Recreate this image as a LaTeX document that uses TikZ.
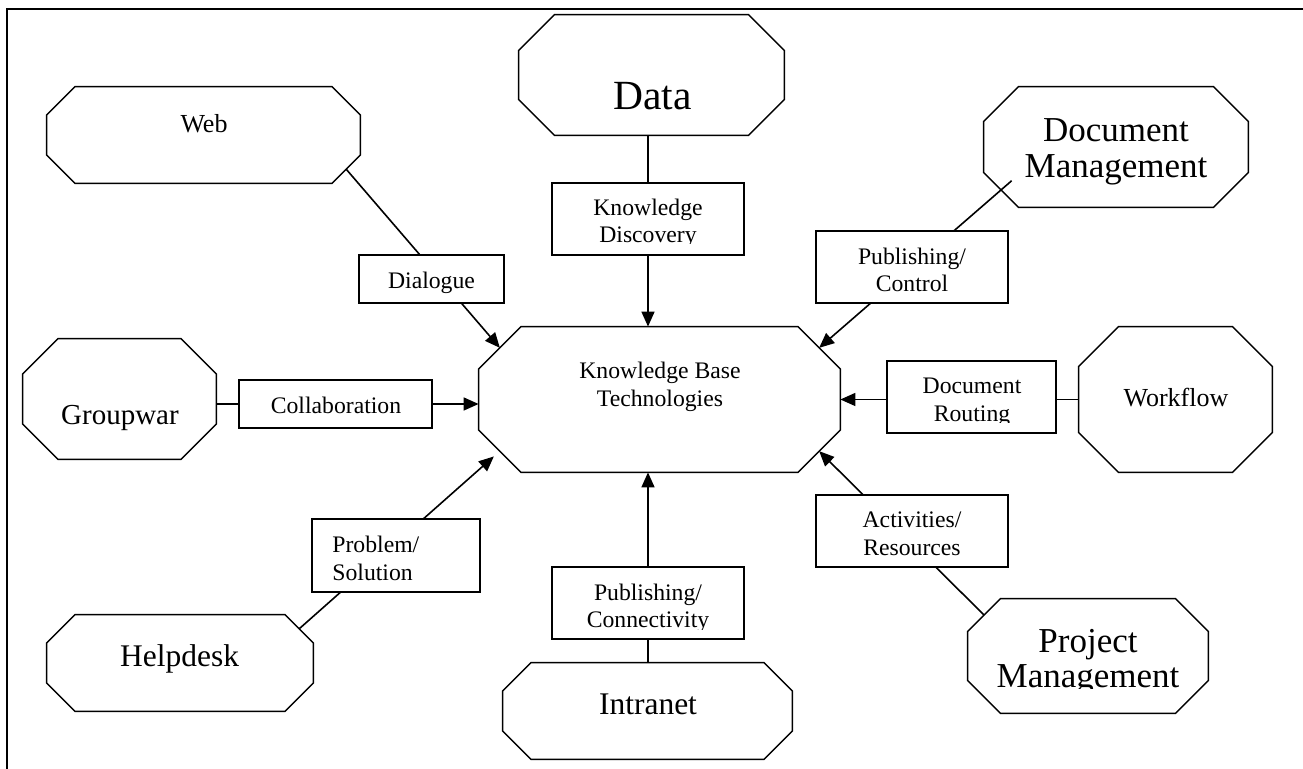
\documentclass[tikz,border=0pt]{standalone}
\usepackage{fontspec}
\setmainfont{Liberation Serif}
\usetikzlibrary{arrows.meta, backgrounds}

\begin{document}
\begin{tikzpicture}[x=0.5pt, y=-0.5pt,
  oct/.style={rectangle, inner sep=0pt},
  box/.style={rectangle, draw=black, fill=white, line width=0.7pt, inner sep=0pt},
  txt/.style={inner sep=0pt, align=center},
  lbl/.style={txt, font=\fontsize{11.85}{13.85}\selectfont},
  arr/.style={line width=0.8pt, -{Triangle[length=7.5pt, width=6.5pt]}}]
  \useasboundingbox (0,0) rectangle (1303,769);
  % frame
  \draw[line width=0.7pt] (7,769) -- (7,9) -- (1303,9);

  % outer octagons and the centre
  \node[oct, minimum width=156.5pt, minimum height=48pt] (web) at (203.5,135) {};
  \node[oct, minimum width=132.5pt, minimum height=60pt] (data) at (651.5,75) {};
  \node[oct, minimum width=132pt, minimum height=60pt] (dm) at (1116,147) {};
  \node[oct, minimum width=96.5pt, minimum height=60pt] (gw) at (119.5,399) {};
  \node[oct, minimum width=180.5pt, minimum height=72.5pt] (kb) at (659.5,399.5) {};
  \node[oct, minimum width=96.5pt, minimum height=72.5pt] (wf) at (1175.5,399.5) {};
  \node[oct, minimum width=133pt, minimum height=48pt] (hd) at (180,663) {};
  \node[oct, minimum width=144.5pt, minimum height=48pt] (intra) at (647.5,711) {};
  \node[oct, minimum width=120pt, minimum height=57pt] (pm) at (1088,656) {};

  % cut the corners, name the middle of each cut
  \foreach \n/\c in {web/28.5, data/36, dm/35, gw/35.5, kb/42.5, wf/40, hd/28.5, intra/28.5, pm/33} {
    \draw[line width=0.7pt] ([shift={(\c,0)}]\n.north west) -- ([shift={(-\c,0)}]\n.north east)
      -- ([shift={(0,\c)}]\n.north east) -- ([shift={(0,-\c)}]\n.south east)
      -- ([shift={(-\c,0)}]\n.south east) -- ([shift={(\c,0)}]\n.south west)
      -- ([shift={(0,-\c)}]\n.south west) -- ([shift={(0,\c)}]\n.north west) -- cycle;
    \coordinate (\n-nw) at ([shift={(\c/2,\c/2)}]\n.north west);
    \coordinate (\n-ne) at ([shift={(-\c/2,\c/2)}]\n.north east);
    \coordinate (\n-se) at ([shift={(-\c/2,-\c/2)}]\n.south east);
    \coordinate (\n-sw) at ([shift={(\c/2,-\c/2)}]\n.south west);
  }

  % label boxes
  \node[box, minimum width=72.5pt, minimum height=24pt] (dlg) at (431.5,279) {};
  \node[box, minimum width=96.5pt, minimum height=24pt] (col) at (335.5,404) {};
  \node[box, minimum width=96pt, minimum height=36pt] (kd) at (648,219) {};
  \node[box, minimum width=96pt, minimum height=36pt] (pc) at (912,267) {};
  \node[box, minimum width=84.5pt, minimum height=36pt] (dr) at (971.5,397) {};
  \node[box, minimum width=96pt, minimum height=36pt] (ar) at (912,531) {};
  \node[box, minimum width=96pt, minimum height=36pt] (pcn) at (648,603) {};
  \node[box, minimum width=84pt, minimum height=36.5pt] (ps) at (396,555.5) {};

  % texts
  \node[txt, font=\fontsize{13}{15}\selectfont] (web-t) at (204,123.8) {Web};
  \node[txt, font=\fontsize{20.75}{24}\selectfont] (data-t) at (652.5,96.3) {Data};
  \node[txt, font=\fontsize{17.5}{17.9}\selectfont] (dm-t) at (1116,151.7) {Document\\Management};
  \node[txt, font=\fontsize{14.5}{17}\selectfont] (gw-t) at (120,418.4) {Groupwar};
  \node[lbl] (kb-t) at (660,386.7) {Knowledge Base\\Technologies};
  \node[txt, font=\fontsize{13}{15}\selectfont] (wf-t) at (1176,397.8) {Workflow};
  \node[txt, font=\fontsize{15.75}{18}\selectfont] (hd-t) at (179.7,659.3) {Helpdesk};
  \node[txt, font=\fontsize{15.75}{18}\selectfont] (intra-t) at (648,704.6) {Intranet};
  \node[txt, font=\fontsize{17.5}{17.9}\selectfont] (pm-t) at (1088,662.2) {Project\\Management};

  \node[lbl] (dlg-t) at (431.5,282.8) {Dialogue};
  \node[lbl] (col-t) at (336,405.2) {Collaboration};
  \node[lbl] (kd-t) at (648,223.4) {Knowledge\\Discovery};
  \node[lbl] (pc-t) at (912,269.9) {Publishing/\\Control};
  \node[lbl] (dr-t) at (972,402) {Document\\Routing};
  \node[lbl] (ar-t) at (912,533.9) {Activities/\\Resources};
  \node[lbl] (pcn-t) at (648,608.3) {Publishing/\\Connectivity};
  \node[lbl, align=left, anchor=west] (ps-t) at (332,558.1) {Problem/\\Solution};

  % text cut off at the bottom of its box
  \fill[white] ([shift={(3,-12)}]kd.south west) rectangle ([shift={(-3,-2)}]kd.south east);
  \fill[white] ([shift={(3,-11)}]dr.south west) rectangle ([shift={(-3,-2)}]dr.south east);
  \fill[white] ([shift={(3,-10)}]pcn.south west) rectangle ([shift={(-3,-2)}]pcn.south east);
  \fill[white] (1000,689.5) rectangle (1176,700);

  % connectors
  \begin{pgfonlayer}{background}
    \draw[arr] (web-se) -- (kb-nw);
    \draw[arr] (kd |- data.south) -- (kd |- kb.north);
    \draw[arr, shorten <=-7pt] (dm-sw) -- (kb-ne);
    \draw[arr] (gw.east |- col) -- (kb.west |- col);
    \draw[arr] (wf.west) -- (kb.east);
    \draw[arr, shorten >=4pt] (hd-ne) -- (kb-sw);
    \draw[arr] (pcn |- intra.north) -- (pcn |- kb.south);
    \draw[arr] (pm-nw) -- (kb-se);
  \end{pgfonlayer}
\end{tikzpicture}
\end{document}
